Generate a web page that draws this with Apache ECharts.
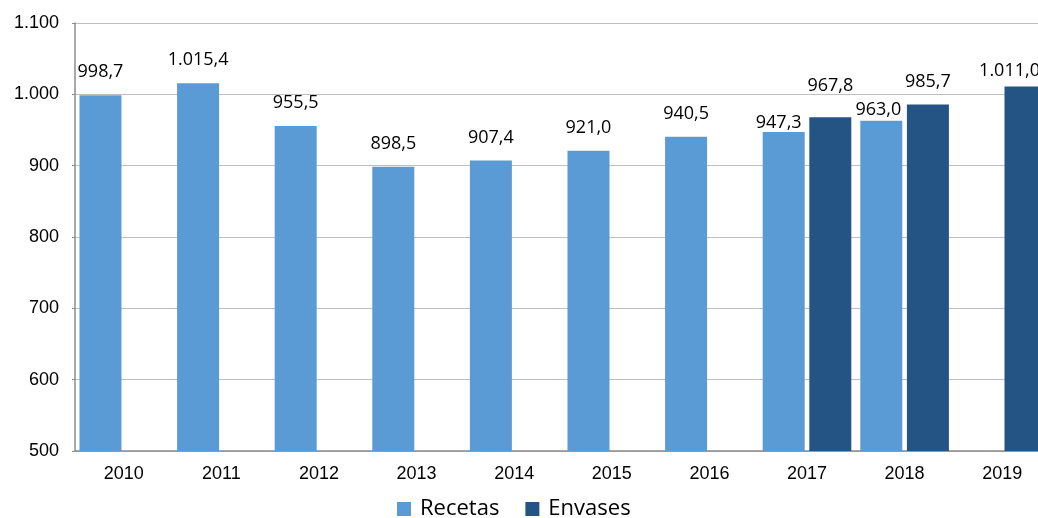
<!DOCTYPE html>
<html>
<head>
<meta charset="utf-8">
<script src="https://cdn.jsdelivr.net/npm/echarts@6/dist/echarts.min.js"></script>
<style>html,body{margin:0;padding:0;background:#fff;}#c{width:1038px;height:518px;}</style>
</head>
<body>
<div id="c"></div>
<script>
var categories = ['2010','2011','2012','2013','2014','2015','2016','2017','2018','2019'];
var recetas = [998.7, 1015.4, 955.5, 898.5, 907.4, 921.0, 940.5, 947.3, 963.0, null];
var envases = [null, null, null, null, null, null, null, 967.8, 985.7, 1011.0];
var seriesNames = ['Recetas', 'Envases'];

function fmtNum(v, dec) {
  var s = v.toFixed(dec);
  var parts = s.split('.');
  var intPart = parts[0].replace(/\B(?=(\d{3})+(?!\d))/g, '.');
  return parts.length > 1 ? intPart + ',' + parts[1] : intPart;
}

// label placement tweaks (style only)
var recLabelAdj = {7: {distance: 0, offset: [-5, 0]}, 8: {distance: 2, offset: [-3, 0]}};
var envLabelAdj = {7: {distance: 22}, 9: {distance: 7, offset: [-16, 0]}};

function buildData(arr, adj) {
  return arr.map(function (v, i) {
    if (v === null) return null;
    var o = {value: v};
    if (adj[i]) o.label = adj[i];
    return o;
  });
}

var labelStyle = {
  show: true, position: 'top', distance: 14, color: '#000',
  fontFamily: 'Open Sans', fontSize: 18,
  formatter: function (p) { return fmtNum(p.value, 1); }
};

var chart = echarts.init(document.getElementById('c'));
chart.setOption({
  animation: false,
  grid: {left: 75, width: 976, top: 23, height: 428, outerBoundsMode: 'none', containLabel: false},
  legend: {
    top: 493, left: 392, itemWidth: 14, itemHeight: 14, itemGap: 26,
    icon: 'rect',
    textStyle: {fontFamily: 'Open Sans', fontSize: 22, color: '#000', padding: [0, 0, 0, 4]},
    data: seriesNames
  },
  xAxis: {
    type: 'category', data: categories,
    axisLine: {lineStyle: {color: '#8c8c8c', width: 1.5}},
    axisTick: {show: false},
    axisLabel: {fontFamily: 'Liberation Sans', fontSize: 18, color: '#000', margin: 14}
  },
  yAxis: {
    type: 'value', min: 500, max: 1100, interval: 100,
    axisLine: {show: true, lineStyle: {color: '#8c8c8c', width: 1.5}},
    axisTick: {show: true, length: 3, lineStyle: {color: '#8c8c8c'}},
    splitLine: {lineStyle: {color: '#bfbfbf', width: 1}},
    axisLabel: {fontFamily: 'Liberation Sans', fontSize: 18, color: '#000', margin: 16,
      formatter: function (v) { return fmtNum(v, 0); }}
  },
  series: [
    {name: seriesNames[0], type: 'bar', data: buildData(recetas, recLabelAdj),
     itemStyle: {color: '#5b9bd5'}, barWidth: 42, barGap: '11%', label: labelStyle},
    {name: seriesNames[1], type: 'bar', data: buildData(envases, envLabelAdj),
     itemStyle: {color: '#235483'}, barWidth: 42, label: labelStyle}
  ]
});
</script>
</body>
</html>
